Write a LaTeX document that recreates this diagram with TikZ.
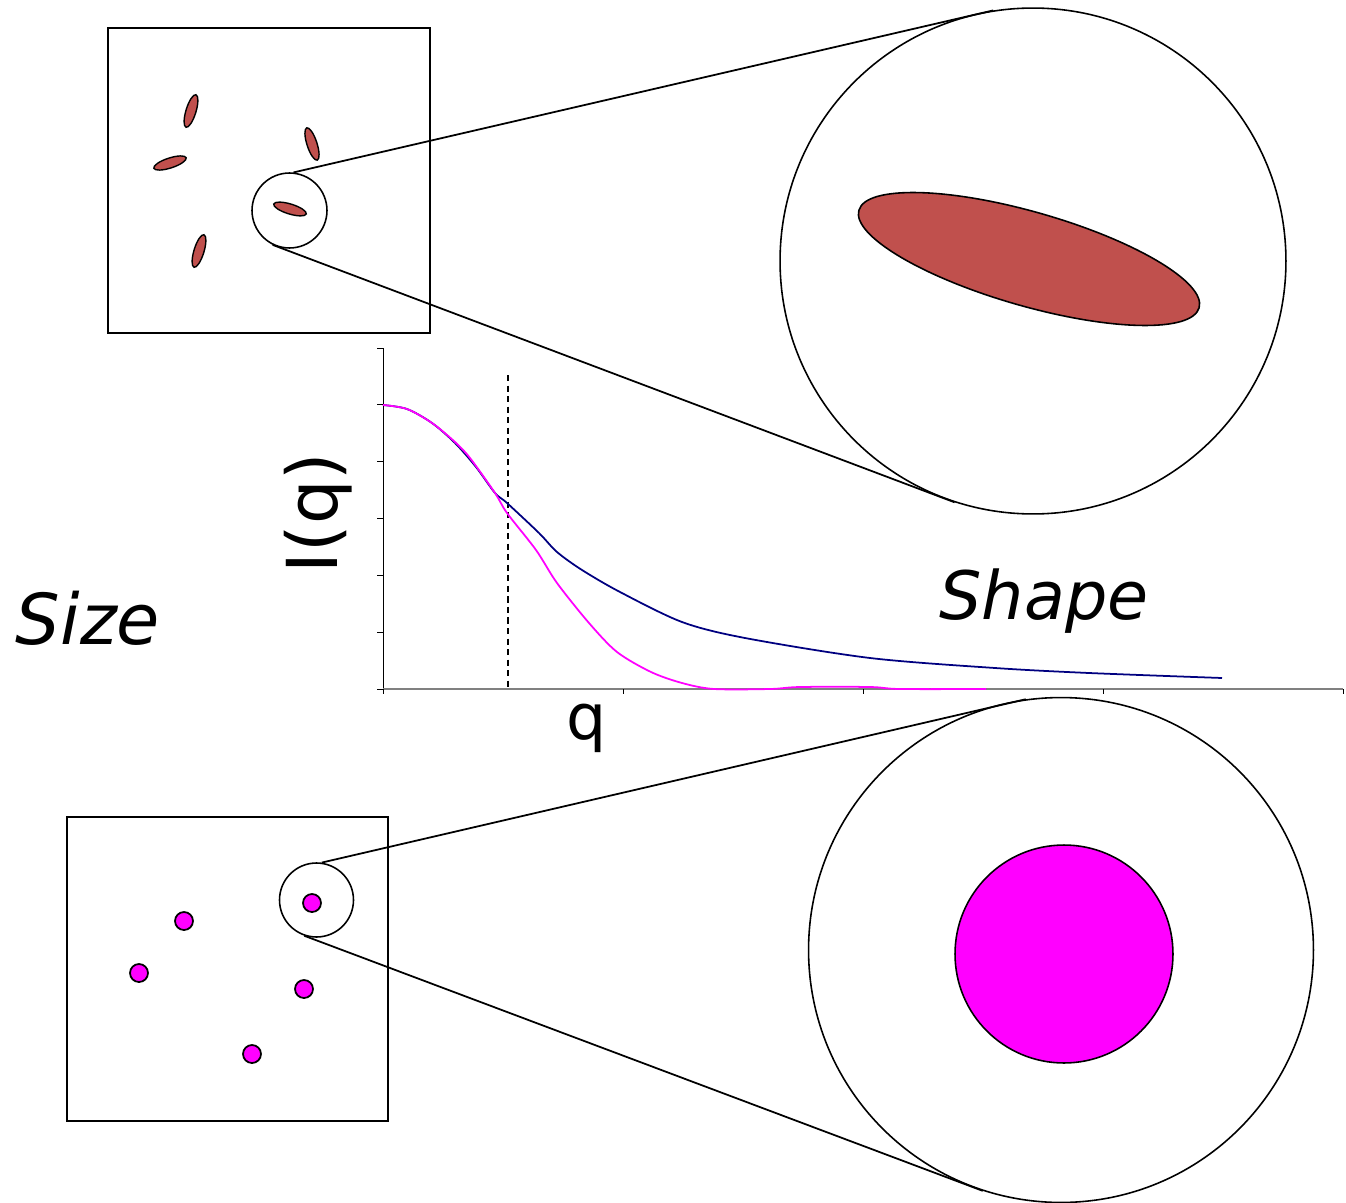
\documentclass[tikz,border=0pt]{standalone}
\usepackage{fontspec}
\setmainfont{DejaVu Sans}
\usetikzlibrary{shapes.geometric}
\definecolor{grainred}{HTML}{C0504D}
\definecolor{spherepink}{HTML}{FF00FF}
\definecolor{rodblue}{HTML}{000080}
\definecolor{axisgray}{HTML}{808080}

\begin{document}
\begin{tikzpicture}[
      x=0.02cm,y=-0.02cm,
      frame/.style={draw,line width=1.2pt},
      lens/.style={circle,draw,line width=0.9pt,inner sep=0pt},
      grain/.style={ellipse,draw,fill=grainred,line width=0.8pt,inner sep=0pt,
                    minimum width=0.68cm,minimum height=0.2cm},
      dot/.style={circle,draw,fill=spherepink,line width=1pt,inner sep=0pt,
                  minimum size=0.36cm},
      ray/.style={line width=1pt},
      word/.style={font=\fontsize{38}{42}\selectfont\itshape}
    ]
    \useasboundingbox (0,0) rectangle (1346,1203);

    \draw[frame] (108,28) rectangle (430,333);
    \node[grain,rotate=73] (rodA) at (191,111) {};
    \node[grain,rotate=18] (rodB) at (170,163) {};
    \node[grain,rotate=108] (rodC) at (312,144) {};
    \node[grain,rotate=-17] (rodD) at (290,209) {};
    \node[grain,rotate=73] (rodE) at (199,251) {};
    \node[lens,minimum size=1.5cm] (lensA) at (289.5,210.5) {};
    \node[lens,minimum size=10.12cm] (zoomA) at (1033,261) {};
    \node[ellipse,draw,fill=grainred,line width=0.9pt,inner sep=0pt,
          minimum width=7.08cm,minimum height=1.88cm,rotate=-16] (bigrod) at (1029,259) {};
    \draw[ray] (lensA.84) -- (zoomA.99);
    \draw[ray] (lensA.-116) -- (zoomA.-108);

    \draw[frame] (67,817) rectangle (388,1121);
    \node[dot] (ballA) at (184,921) {};
    \node[dot] (ballB) at (139,973) {};
    \node[dot] (ballC) at (304,989) {};
    \node[dot] (ballD) at (252,1054) {};
    \node[dot] (ballE) at (312,903) {};
    \node[lens,minimum size=1.48cm] (lensB) at (316.5,900) {};
    \node[lens,minimum size=10.1cm] (zoomB) at (1061,950) {};
    \node[circle,draw,fill=spherepink,line width=0.9pt,inner sep=0pt,
          minimum size=4.36cm] (bigball) at (1064,954) {};
    \draw[ray] (lensB.82) -- (zoomB.98);
    \draw[ray] (lensB.-109) -- (zoomB.-108);

    \draw[line width=0.5pt] (383,348) -- (383,689);
    \foreach \k in {0,...,6}
      \draw[line width=0.5pt] (377,{689-56.83*\k}) -- (383,{689-56.83*\k});
    \draw[axisgray,line width=1pt] (383,689) -- (1343,689);
    \foreach \k in {0,...,4}
      \draw[line width=0.5pt] ({383+240*\k},689) -- ({383+240*\k},694);
    \draw[dashed,line width=0.7pt,dash pattern=on 3.5pt off 2.5pt] (508,375) -- (508,689);
    \draw[rodblue,line width=1pt] plot[smooth] coordinates {(383,405) (407,409)
      (432,423) (455,443) (476,467) (495,493) (507,503) (539,533) (557,552)
      (582,570) (620,592) (682,622) (745,638) (870,658) (995,668) (1089,673)
      (1222,678)};
    \draw[spherepink,line width=1pt] plot[smooth] coordinates {(383,405) (407,409)
      (432,423) (455,442) (470,458) (495,493) (507,513) (536,550) (557,583)
      (589,623) (617,652) (651,672) (682,683) (714,689) (770,689) (800,687)
      (870,687) (900,689) (986,689)};

    \node[font=\fontsize{40}{46}\selectfont,rotate=90] (intensity) at (318,513) {I(q)};
    \node[font=\fontsize{36}{42}\selectfont] (wavevec) at (587,728) {q};
    \node[word,font=\fontsize{40}{44}\selectfont\itshape] (size) at (88,618) {Size};
    \node[word] (shape) at (1044,601) {Shape};
  \end{tikzpicture}
\end{document}
